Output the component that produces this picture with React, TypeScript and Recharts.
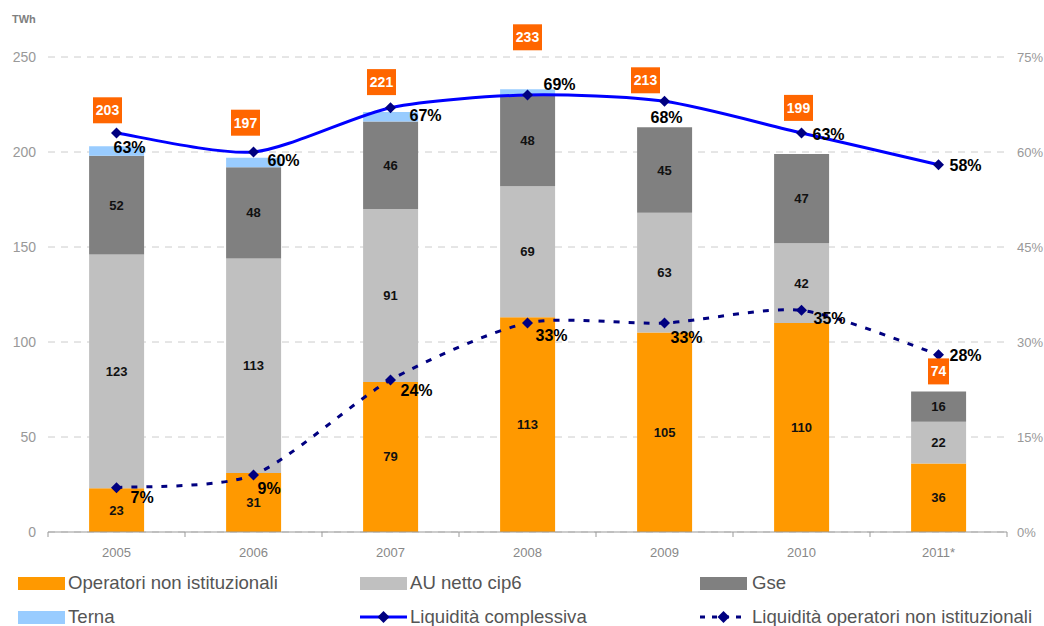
import React from 'react';
import {
  ComposedChart,
  Bar,
  Line,
  XAxis,
  YAxis,
  CartesianGrid,
  LabelList,
} from 'recharts';

const YEARS = ['2005', '2006', '2007', '2008', '2009', '2010', '2011*'];
const OPERATORI = [23, 31, 79, 113, 105, 110, 36];
const AU_NETTO = [123, 113, 91, 69, 63, 42, 22];
const GSE = [52, 48, 46, 48, 45, 47, 16];
const TERNA = [5, 5, 5, 3, 0, 0, 0];
const TOTALS = [203, 197, 221, 233, 213, 199, 74];
const LIQ_TOT = [63, 60, 67, 69, 68, 63, 58];
const LIQ_OP = [7, 9, 24, 33, 33, 35, 28];
const LEFT_TICKS = [0, 50, 100, 150, 200, 250];
const RIGHT_TICKS = [0, 15, 30, 45, 60, 75];

// label nudges, as placed by hand in the original
const BOX_NUDGE = [[-9, -36], [-8, -35], [-9, -30], [0, -52], [-19, -47], [-3, -46], [0, -20]];
const TOT_NUDGE = [[-3, 14], [14, 8], [19, 8], [16, -11], [-14, 16], [11, 1], [11, 1]];
const OP_NUDGE = [[14, 10], [4, 13], [10, 10], [8, 12], [6, 14], [12, 8], [11, 1]];

const ORANGE = '#FF9900';
const LIGHT_GRAY = '#C0C0C0';
const DARK_GRAY = '#808080';
const LIGHT_BLUE = '#99CCFF';
const BLUE = '#0000FF';
const NAVY = '#000080';
const BOX = '#FF6600';
const FONT = '"Liberation Sans", Arial, Helvetica, sans-serif';

const data = YEARS.map((year, i) => ({
  year,
  operatori: OPERATORI[i],
  au: AU_NETTO[i],
  gse: GSE[i],
  terna: TERNA[i],
  total: TOTALS[i],
  liqTot: LIQ_TOT[i],
  liqOp: LIQ_OP[i],
}));

// Excel-style smoothed line, a bit flatter than plain Catmull-Rom
const K = 1 / 8;
const smoothCurve = (context: any) => {
  let pts: number[][] = [];
  return {
    areaStart() {},
    areaEnd() {},
    lineStart() {
      pts = [];
    },
    point(x: number, y: number) {
      pts.push([+x, +y]);
    },
    lineEnd() {
      if (!pts.length) return;
      context.moveTo(pts[0][0], pts[0][1]);
      for (let i = 0; i < pts.length - 1; i++) {
        const p0 = pts[i - 1] || pts[i];
        const p1 = pts[i];
        const p2 = pts[i + 1];
        const p3 = pts[i + 2] || p2;
        context.bezierCurveTo(
          p1[0] + (p2[0] - p0[0]) * K,
          p1[1] + (p2[1] - p0[1]) * K,
          p2[0] - (p3[0] - p1[0]) * K,
          p2[1] - (p3[1] - p1[1]) * K,
          p2[0],
          p2[1]
        );
      }
    },
  };
};

const Diamond = (props: any) => {
  const { cx, cy } = props;
  if (cx == null || cy == null) return null;
  const r = 5.5;
  return (
    <polygon
      points={`${cx},${cy - r} ${cx + r},${cy} ${cx},${cy + r} ${cx - r},${cy}`}
      fill={NAVY}
    />
  );
};

const HALF_BAND = 68.5;

const XTick = (props: any) => {
  const { x, y, payload, index } = props;
  return (
    <g>
      <line x1={x - HALF_BAND} y1={y} x2={x - HALF_BAND} y2={y + 5} stroke="#999" />
      {index === YEARS.length - 1 && (
        <line x1={x + HALF_BAND} y1={y} x2={x + HALF_BAND} y2={y + 5} stroke="#999" />
      )}
      <text x={x} y={y + 25} textAnchor="middle" fill="#888" fontSize={13}>
        {payload.value}
      </text>
    </g>
  );
};

const SegmentLabel = (props: any) => {
  const { x, y, width, height, value } = props;
  if (!value) return null;
  return (
    <text
      x={x + width / 2}
      y={y + height / 2}
      textAnchor="middle"
      dominantBaseline="central"
      fontSize={13}
      fontWeight="bold"
      fill="#111"
    >
      {value}
    </text>
  );
};

const TotalBox = (props: any) => {
  const { x, y, value, index } = props;
  const [dx, dy] = BOX_NUDGE[index] || [0, -38];
  const w = String(value).length > 2 ? 29 : 21;
  const cx = x + dx;
  const cy = y + dy;
  return (
    <g>
      <rect x={cx - w / 2} y={cy - 13} width={w} height={26} fill={BOX} />
      <text
        x={cx}
        y={cy}
        textAnchor="middle"
        dominantBaseline="central"
        fontSize={14}
        fontWeight="bold"
        fill="#fff"
      >
        {value}
      </text>
    </g>
  );
};

const makePctLabel = (nudge: number[][]) => (props: any) => {
  const { x, y, value, index } = props;
  const [dx, dy] = nudge[index] || [12, 8];
  return (
    <text
      x={x + dx}
      y={y + dy}
      dominantBaseline="central"
      fontSize={16}
      fontWeight="bold"
      fill="#000"
    >
      {value}%
    </text>
  );
};
const TotPctLabel = makePctLabel(TOT_NUDGE);
const OpPctLabel = makePctLabel(OP_NUDGE);

const legendText: React.CSSProperties = {
  position: 'absolute',
  fontSize: 18.6,
  color: '#555',
  lineHeight: '20px',
  whiteSpace: 'nowrap',
};

function Swatch({ left, top, color }: { left: number; top: number; color: string }) {
  return (
    <div
      style={{ position: 'absolute', left, top, width: 47, height: 13, background: color }}
    />
  );
}

function LineSymbol({ left, top, dashed }: { left: number; top: number; dashed?: boolean }) {
  return (
    <svg style={{ position: 'absolute', left, top }} width={47} height={14}>
      <line
        x1={0}
        y1={7}
        x2={47}
        y2={7}
        stroke={dashed ? NAVY : BLUE}
        strokeWidth={3}
        strokeDasharray={dashed ? '5 7' : undefined}
      />
      <polygon points="23.5,1 29.5,7 23.5,13 17.5,7" fill={NAVY} />
    </svg>
  );
}

export default function App() {
  return (
    <div
      style={{
        position: 'absolute',
        left: 0,
        top: 0,
        width: 1044,
        height: 626,
        background: '#fff',
        fontFamily: FONT,
      }}
    >
      <div
        style={{
          position: 'absolute',
          left: 12,
          top: 13,
          fontSize: 11,
          fontWeight: 'bold',
          color: '#808080',
        }}
      >
        TWh
      </div>
      <ComposedChart
        width={1044}
        height={626}
        data={data}
        margin={{ top: 57, right: 0, left: 0, bottom: 64 }}
        barCategoryGap="30%"
        style={{ fontFamily: FONT }}
      >
        <CartesianGrid
          vertical={false}
          stroke="#CCCCCC"
          strokeDasharray="7 6"
          yAxisId="left"
        />
        <XAxis
          dataKey="year"
          height={30}
          tickSize={0}
          tickMargin={0}
          axisLine={{ stroke: '#999' }}
          tickLine={false}
          tick={<XTick />}
          interval={0}
        />
        <YAxis
          yAxisId="left"
          domain={[0, 250]}
          ticks={LEFT_TICKS}
          width={48}
          axisLine={false}
          tickLine={false}
          tickSize={0}
          tickMargin={12}
          tick={{ fill: '#999', fontSize: 14 }}
        />
        <YAxis
          yAxisId="right"
          orientation="right"
          domain={[0, 75]}
          ticks={RIGHT_TICKS}
          width={37}
          axisLine={false}
          tickLine={false}
          tickSize={0}
          tickMargin={10}
          tickFormatter={(v) => `${v}%`}
          tick={{ fill: '#999', fontSize: 13 }}
        />
        <Bar
          yAxisId="left"
          dataKey="operatori"
          stackId="a"
          fill={ORANGE}
          isAnimationActive={false}
          name="Operatori non istituzionali"
        >
          <LabelList dataKey="operatori" content={<SegmentLabel />} />
        </Bar>
        <Bar
          yAxisId="left"
          dataKey="au"
          stackId="a"
          fill={LIGHT_GRAY}
          isAnimationActive={false}
          name="AU netto cip6"
        >
          <LabelList dataKey="au" content={<SegmentLabel />} />
        </Bar>
        <Bar
          yAxisId="left"
          dataKey="gse"
          stackId="a"
          fill={DARK_GRAY}
          isAnimationActive={false}
          name="Gse"
        >
          <LabelList dataKey="gse" content={<SegmentLabel />} />
        </Bar>
        <Bar
          yAxisId="left"
          dataKey="terna"
          stackId="a"
          fill={LIGHT_BLUE}
          isAnimationActive={false}
          name="Terna"
        />
        <Line
          yAxisId="left"
          dataKey="total"
          stroke="none"
          dot={false}
          activeDot={false}
          legendType="none"
          isAnimationActive={false}
        >
          <LabelList dataKey="total" content={<TotalBox />} />
        </Line>
        <Line
          yAxisId="right"
          type={smoothCurve as any}
          dataKey="liqTot"
          stroke={BLUE}
          strokeWidth={3}
          dot={<Diamond />}
          activeDot={false}
          isAnimationActive={false}
          name="Liquidità complessiva"
        >
          <LabelList dataKey="liqTot" content={<TotPctLabel />} />
        </Line>
        <Line
          yAxisId="right"
          type={smoothCurve as any}
          dataKey="liqOp"
          stroke={NAVY}
          strokeWidth={3}
          strokeDasharray="6 9"
          dot={<Diamond />}
          activeDot={false}
          isAnimationActive={false}
          name="Liquidità operatori non istituzionali"
        >
          <LabelList dataKey="liqOp" content={<OpPctLabel />} />
        </Line>
      </ComposedChart>

      <Swatch left={18} top={577} color={ORANGE} />
      <div style={{ ...legendText, left: 68, top: 573 }}>Operatori non istituzionali</div>
      <Swatch left={360} top={577} color={LIGHT_GRAY} />
      <div style={{ ...legendText, left: 410, top: 573 }}>AU netto cip6</div>
      <Swatch left={700} top={577} color={DARK_GRAY} />
      <div style={{ ...legendText, left: 752, top: 573 }}>Gse</div>

      <Swatch left={18} top={611} color={LIGHT_BLUE} />
      <div style={{ ...legendText, left: 68, top: 607 }}>Terna</div>
      <LineSymbol left={360} top={610} />
      <div style={{ ...legendText, left: 410, top: 607 }}>Liquidità complessiva</div>
      <LineSymbol left={700} top={610} dashed />
      <div style={{ ...legendText, left: 752, top: 607 }}>
        Liquidità operatori non istituzionali
      </div>
    </div>
  );
}
